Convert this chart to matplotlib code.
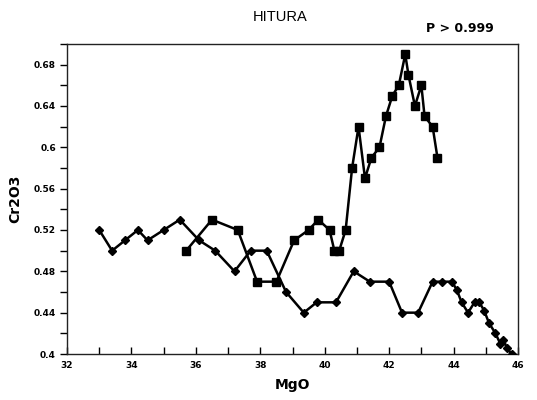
import matplotlib
matplotlib.use("Agg")
import matplotlib.pyplot as plt
from matplotlib.ticker import MultipleLocator, FormatStrFormatter, FuncFormatter

# MgO / Cr2O3 profile, first traverse (diamond markers)
mgo_a = [33.0, 33.4, 33.8, 34.2, 34.5, 35.0, 35.5, 36.1, 36.6, 37.2, 37.7, 38.2,
         38.8, 39.35, 39.75, 40.35, 40.9, 41.4, 42.0, 42.4, 42.9, 43.35, 43.65,
         43.95, 44.1, 44.25, 44.45, 44.65, 44.8, 44.95, 45.1, 45.3, 45.45, 45.55,
         45.65, 45.8]
cr_a = [0.52, 0.50, 0.51, 0.52, 0.51, 0.52, 0.53, 0.51, 0.50, 0.48, 0.50, 0.50,
        0.46, 0.44, 0.45, 0.45, 0.48, 0.47, 0.47, 0.44, 0.44, 0.47, 0.47,
        0.47, 0.462, 0.45, 0.44, 0.45, 0.45, 0.442, 0.43, 0.42, 0.41, 0.414,
        0.406, 0.40]

# second traverse (square markers)
mgo_b = [35.7, 36.5, 37.3, 37.9, 38.5, 39.05, 39.5, 39.8, 40.15, 40.3, 40.45,
         40.65, 40.85, 41.05, 41.25, 41.45, 41.7, 41.9, 42.1, 42.3, 42.5, 42.6,
         42.8, 43.0, 43.1, 43.35, 43.5]
cr_b = [0.50, 0.53, 0.52, 0.47, 0.47, 0.51, 0.52, 0.53, 0.52, 0.50, 0.50,
        0.52, 0.58, 0.62, 0.57, 0.59, 0.60, 0.63, 0.65, 0.66, 0.69, 0.67,
        0.64, 0.66, 0.63, 0.62, 0.59]

title = "HITURA"
note = "P > 0.999"
xlabel = "MgO"
ylabel = "Cr2O3"

fig = plt.figure(figsize=(5.37, 4.0), dpi=100)
ax = fig.add_axes([0.1248, 0.115, 0.8398, 0.775])

ax.plot(mgo_a, cr_a, color="black", lw=1.8, marker="D", ms=3.8,
        mfc="black", mec="black", zorder=3)
ax.plot(mgo_b, cr_b, color="black", lw=1.8, marker="s", ms=5.5,
        mfc="black", mec="black", zorder=3)

ax.set_xlim(32, 46)
ax.set_ylim(0.4, 0.7)

ax.xaxis.set_major_locator(MultipleLocator(2))
ax.xaxis.set_minor_locator(MultipleLocator(1))
ax.yaxis.set_major_locator(MultipleLocator(0.04))
ax.yaxis.set_minor_locator(MultipleLocator(0.02))

def ylab(v, pos):
    return f"{v:.2f}".rstrip("0")

ax.yaxis.set_major_formatter(FuncFormatter(ylab))
ax.xaxis.set_major_formatter(FormatStrFormatter("%d"))

ax.tick_params(axis="x", which="both", direction="in", length=5, width=1,
               labelsize=6.5, pad=5, top=False)
ax.tick_params(axis="y", which="both", direction="out", length=5, width=1,
               labelsize=6.5, pad=3, right=False)
for lab in ax.get_xticklabels() + ax.get_yticklabels():
    lab.set_fontweight("bold")

for sp in ax.spines.values():
    sp.set_linewidth(1.0)
    sp.set_color("#222222")

ax.set_xlabel(xlabel, fontsize=10, fontweight="bold", labelpad=6)
ax.set_ylabel(ylabel, fontsize=10, fontweight="bold", labelpad=8)

fig.text(0.522, 0.958, title, ha="center", va="center", fontsize=10.5,
         family="Liberation Sans")
fig.text(0.856, 0.93, note, ha="center", va="center", fontsize=9,
         fontweight="bold")

fig.savefig("out.png", dpi=100, facecolor="white")
